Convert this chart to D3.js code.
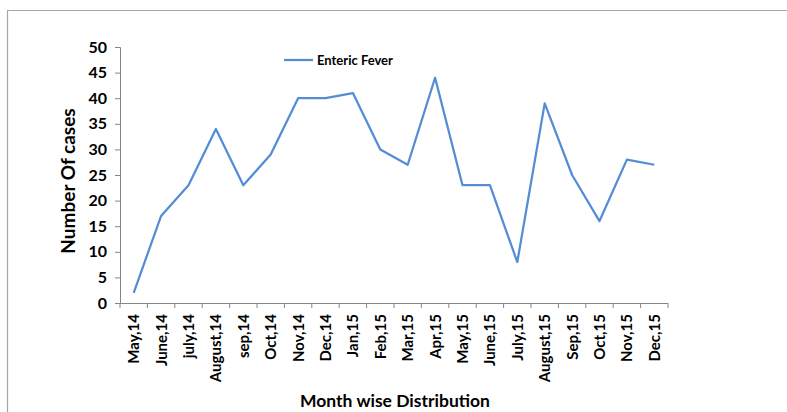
<!DOCTYPE html>
<html>
<head>
<meta charset="utf-8">
<script src="https://cdn.jsdelivr.net/npm/d3@7"></script>
<style>
  html, body { margin: 0; padding: 0; background: #fff; }
  svg { display: block; }
  text { font-family: Lato, "Open Sans", sans-serif; font-weight: bold; fill: #000; }
</style>
</head>
<body>
<svg id="chart" width="787" height="412"></svg>
<script>
const months = ["May,14","June,14","july,14","August,14","sep,14","Oct,14","Nov,14","Dec,14","Jan,15","Feb,15","Mar,15","Apr,15","May,15","June,15","July,15","August,15","Sep,15","Oct,15","Nov,15","Dec,15"];
const entericFever = [2,17,23,34,23,29,40,40,41,30,27,44,23,23,8,39,25,16,28,27];
const yTicks = [0,5,10,15,20,25,30,35,40,45,50];
const seriesName = "Enteric Fever";

const svg = d3.select("#chart");
const margin = {left: 120, top: 47, right: 787 - 668, bottom: 412 - 303};
const W = 787, H = 412;

// frame
svg.append("line").attr("x1", 7).attr("x2", 787).attr("y1", 10.5).attr("y2", 10.5)
  .attr("stroke", "#a6a6a6").attr("stroke-width", 1.2);
svg.append("line").attr("x1", 7.5).attr("x2", 7.5).attr("y1", 10).attr("y2", 412)
  .attr("stroke", "#a6a6a6").attr("stroke-width", 1.2);

const x = d3.scaleBand().domain(months).range([margin.left, W - margin.right]);
const y = d3.scaleLinear().domain([0, 50]).range([H - margin.bottom, margin.top]);

// y axis
const yAxis = svg.append("g").attr("transform", `translate(${margin.left},0)`)
  .call(d3.axisLeft(y).tickValues(yTicks).tickSize(5).tickPadding(8));
yAxis.select(".domain").attr("stroke", "#868686");
yAxis.selectAll(".tick line").attr("stroke", "#868686");
yAxis.selectAll(".tick text").style("font-size", "16px").attr("fill", "#000");

// x axis with ticks at band boundaries
const xAxisG = svg.append("g").attr("transform", `translate(0,${H - margin.bottom})`);
xAxisG.append("line").attr("x1", margin.left).attr("x2", W - margin.right)
  .attr("y1", 0.5).attr("y2", 0.5).attr("stroke", "#868686");
const bounds = months.map(m => x(m)).concat([x(months[months.length - 1]) + x.bandwidth()]);
xAxisG.selectAll("line.tk").data(bounds).join("line").attr("class", "tk")
  .attr("x1", d => d).attr("x2", d => d).attr("y1", 0).attr("y2", 5)
  .attr("stroke", "#868686");
xAxisG.selectAll("text.lbl").data(months).join("text").attr("class", "lbl")
  .attr("transform", d => `translate(${x(d) + x.bandwidth() / 2},11) rotate(-90)`)
  .attr("text-anchor", "end").attr("dy", "0.36em")
  .style("font-size", "15px").text(d => d);

// line
const line = d3.line().x((d, i) => x(months[i]) + x.bandwidth() / 2).y(d => y(d));
svg.append("path").datum(entericFever).attr("d", line)
  .attr("fill", "none").attr("stroke", "#548dd4").attr("stroke-width", 2.25)
  .attr("stroke-linejoin", "round");

// legend
svg.append("line").attr("x1", 284).attr("x2", 313).attr("y1", 60).attr("y2", 60)
  .attr("stroke", "#548dd4").attr("stroke-width", 2.25);
svg.append("text").attr("x", 317).attr("y", 64.5).style("font-size", "13px").text(seriesName);

// axis titles
svg.append("text").attr("transform", "translate(75,181) rotate(-90)")
  .attr("text-anchor", "middle").style("font-size", "19px").text("Number Of cases");
svg.append("text").attr("x", 395).attr("y", 407)
  .attr("text-anchor", "middle").style("font-size", "17.5px").text("Month wise Distribution");
</script>
</body>
</html>
